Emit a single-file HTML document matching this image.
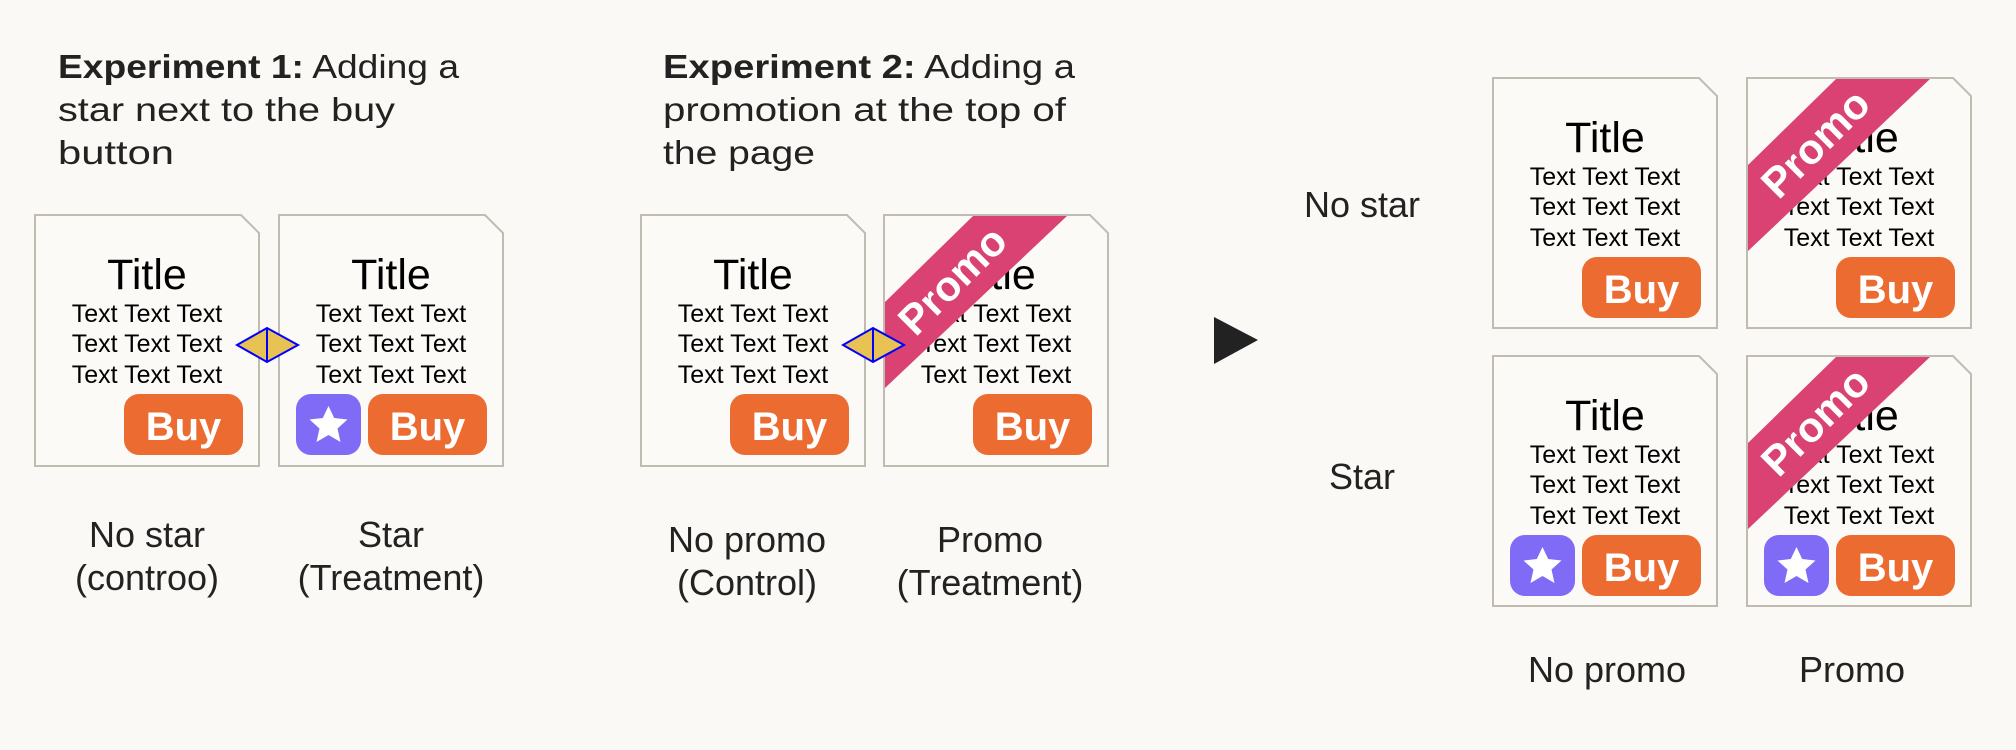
<!DOCTYPE html>
<html><head><meta charset="utf-8"><style>
html,body{margin:0;padding:0;background:#faf9f5;}
svg{display:block;font-family:"Liberation Sans",sans-serif;}
</style></head><body>
<svg width="2016" height="750" viewBox="0 0 2016 750" xmlns="http://www.w3.org/2000/svg">
<rect width="2016" height="750" fill="#faf9f5"/>
<g fill="#222" font-size="33">
<text x="58" y="78" textLength="401" lengthAdjust="spacingAndGlyphs"><tspan font-weight="bold">Experiment 1:</tspan> Adding a</text>
<text x="58" y="121" textLength="337" lengthAdjust="spacingAndGlyphs">star next to the buy</text>
<text x="58" y="164" textLength="116" lengthAdjust="spacingAndGlyphs">button</text>
<text x="663" y="78" textLength="412" lengthAdjust="spacingAndGlyphs"><tspan font-weight="bold">Experiment 2:</tspan> Adding a</text>
<text x="663" y="121" textLength="403" lengthAdjust="spacingAndGlyphs">promotion at the top of</text>
<text x="663" y="164" textLength="152" lengthAdjust="spacingAndGlyphs">the page</text>
</g>

<g transform="translate(35,215)">
<path d="M0,0 H206 L224,18 V251 H0 Z" fill="#fbfaf6" stroke="#c1bbb2" stroke-width="2"/>
<text x="112" y="74" font-size="43" text-anchor="middle" fill="#000">Title</text>
<g font-size="25" text-anchor="middle" fill="#000"><text x="112" y="107">Text Text Text</text><text x="112" y="137">Text Text Text</text><text x="112" y="168">Text Text Text</text></g>
<rect x="89" y="179" width="119" height="61" rx="15" fill="#ec6b30"/>
<text x="148.5" y="225" font-size="40" font-weight="bold" text-anchor="middle" fill="#fff">Buy</text>
</g>
<g transform="translate(279,215)">
<path d="M0,0 H206 L224,18 V251 H0 Z" fill="#fbfaf6" stroke="#c1bbb2" stroke-width="2"/>
<text x="112" y="74" font-size="43" text-anchor="middle" fill="#000">Title</text>
<g font-size="25" text-anchor="middle" fill="#000"><text x="112" y="107">Text Text Text</text><text x="112" y="137">Text Text Text</text><text x="112" y="168">Text Text Text</text></g>
<rect x="17" y="179" width="65" height="61" rx="15" fill="#7f6bf5"/>
<polygon points="49.5,191 55.2,203 68.5,204.5 58.5,213.5 61.5,227 49.5,220 37.5,227 40.5,213.5 30.5,204.5 43.8,203" fill="#fff"/>
<rect x="89" y="179" width="119" height="61" rx="15" fill="#ec6b30"/>
<text x="148.5" y="225" font-size="40" font-weight="bold" text-anchor="middle" fill="#fff">Buy</text>
</g>
<g transform="translate(641,215)">
<path d="M0,0 H206 L224,18 V251 H0 Z" fill="#fbfaf6" stroke="#c1bbb2" stroke-width="2"/>
<text x="112" y="74" font-size="43" text-anchor="middle" fill="#000">Title</text>
<g font-size="25" text-anchor="middle" fill="#000"><text x="112" y="107">Text Text Text</text><text x="112" y="137">Text Text Text</text><text x="112" y="168">Text Text Text</text></g>
<rect x="89" y="179" width="119" height="61" rx="15" fill="#ec6b30"/>
<text x="148.5" y="225" font-size="40" font-weight="bold" text-anchor="middle" fill="#fff">Buy</text>
</g>
<g transform="translate(884,215)">
<path d="M0,0 H206 L224,18 V251 H0 Z" fill="#fbfaf6" stroke="#c1bbb2" stroke-width="2"/>
<text x="112" y="74" font-size="43" text-anchor="middle" fill="#000">Title</text>
<g font-size="25" text-anchor="middle" fill="#000"><text x="112" y="107">Text Text Text</text><text x="112" y="137">Text Text Text</text><text x="112" y="168">Text Text Text</text></g>
<rect x="89" y="179" width="119" height="61" rx="15" fill="#ec6b30"/>
<text x="148.5" y="225" font-size="40" font-weight="bold" text-anchor="middle" fill="#fff">Buy</text>
<polygon points="89,1 183,1 1,173 1,87" fill="#d94273"/>
<text x="68" y="65" transform="rotate(-45 68 65)" dy="15" font-size="42" font-weight="bold" text-anchor="middle" fill="#fff">Promo</text>
</g>

<g fill="#e8c252" stroke="#0000ff" stroke-width="2">
<polygon points="237,345 267,328 298,345 267,362"/><line x1="267" y1="328" x2="267" y2="362"/>
<polygon points="843,345 873,328 904,345 873,362"/><line x1="873" y1="328" x2="873" y2="362"/>
</g>

<g font-size="36" text-anchor="middle" fill="#222">
<text x="147" y="547">No star</text><text x="147" y="590">(controo)</text>
<text x="391" y="547">Star</text><text x="391" y="590">(Treatment)</text>
<text x="747" y="552">No promo</text><text x="747" y="595">(Control)</text>
<text x="990" y="552">Promo</text><text x="990" y="595">(Treatment)</text>
<text x="1362" y="217">No star</text>
<text x="1362" y="489">Star</text>
<text x="1607" y="682">No promo</text>
<text x="1852" y="682">Promo</text>
</g>

<polygon points="1214,317 1258,340 1214,364" fill="#222"/>

<g transform="translate(1493,78)">
<path d="M0,0 H206 L224,18 V250 H0 Z" fill="#fbfaf6" stroke="#c1bbb2" stroke-width="2"/>
<text x="112" y="74" font-size="43" text-anchor="middle" fill="#000">Title</text>
<g font-size="25" text-anchor="middle" fill="#000"><text x="112" y="107">Text Text Text</text><text x="112" y="137">Text Text Text</text><text x="112" y="168">Text Text Text</text></g>
<rect x="89" y="179" width="119" height="61" rx="15" fill="#ec6b30"/>
<text x="148.5" y="225" font-size="40" font-weight="bold" text-anchor="middle" fill="#fff">Buy</text>
</g>
<g transform="translate(1747,78)">
<path d="M0,0 H206 L224,18 V250 H0 Z" fill="#fbfaf6" stroke="#c1bbb2" stroke-width="2"/>
<text x="112" y="74" font-size="43" text-anchor="middle" fill="#000">Title</text>
<g font-size="25" text-anchor="middle" fill="#000"><text x="112" y="107">Text Text Text</text><text x="112" y="137">Text Text Text</text><text x="112" y="168">Text Text Text</text></g>
<rect x="89" y="179" width="119" height="61" rx="15" fill="#ec6b30"/>
<text x="148.5" y="225" font-size="40" font-weight="bold" text-anchor="middle" fill="#fff">Buy</text>
<polygon points="89,1 183,1 1,173 1,87" fill="#d94273"/>
<text x="68" y="65" transform="rotate(-45 68 65)" dy="15" font-size="42" font-weight="bold" text-anchor="middle" fill="#fff">Promo</text>
</g>
<g transform="translate(1493,356)">
<path d="M0,0 H206 L224,18 V250 H0 Z" fill="#fbfaf6" stroke="#c1bbb2" stroke-width="2"/>
<text x="112" y="74" font-size="43" text-anchor="middle" fill="#000">Title</text>
<g font-size="25" text-anchor="middle" fill="#000"><text x="112" y="107">Text Text Text</text><text x="112" y="137">Text Text Text</text><text x="112" y="168">Text Text Text</text></g>
<rect x="17" y="179" width="65" height="61" rx="15" fill="#7f6bf5"/>
<polygon points="49.5,191 55.2,203 68.5,204.5 58.5,213.5 61.5,227 49.5,220 37.5,227 40.5,213.5 30.5,204.5 43.8,203" fill="#fff"/>
<rect x="89" y="179" width="119" height="61" rx="15" fill="#ec6b30"/>
<text x="148.5" y="225" font-size="40" font-weight="bold" text-anchor="middle" fill="#fff">Buy</text>
</g>
<g transform="translate(1747,356)">
<path d="M0,0 H206 L224,18 V250 H0 Z" fill="#fbfaf6" stroke="#c1bbb2" stroke-width="2"/>
<text x="112" y="74" font-size="43" text-anchor="middle" fill="#000">Title</text>
<g font-size="25" text-anchor="middle" fill="#000"><text x="112" y="107">Text Text Text</text><text x="112" y="137">Text Text Text</text><text x="112" y="168">Text Text Text</text></g>
<rect x="17" y="179" width="65" height="61" rx="15" fill="#7f6bf5"/>
<polygon points="49.5,191 55.2,203 68.5,204.5 58.5,213.5 61.5,227 49.5,220 37.5,227 40.5,213.5 30.5,204.5 43.8,203" fill="#fff"/>
<rect x="89" y="179" width="119" height="61" rx="15" fill="#ec6b30"/>
<text x="148.5" y="225" font-size="40" font-weight="bold" text-anchor="middle" fill="#fff">Buy</text>
<polygon points="89,1 183,1 1,173 1,87" fill="#d94273"/>
<text x="68" y="65" transform="rotate(-45 68 65)" dy="15" font-size="42" font-weight="bold" text-anchor="middle" fill="#fff">Promo</text>
</g>
</svg>
</body></html>
